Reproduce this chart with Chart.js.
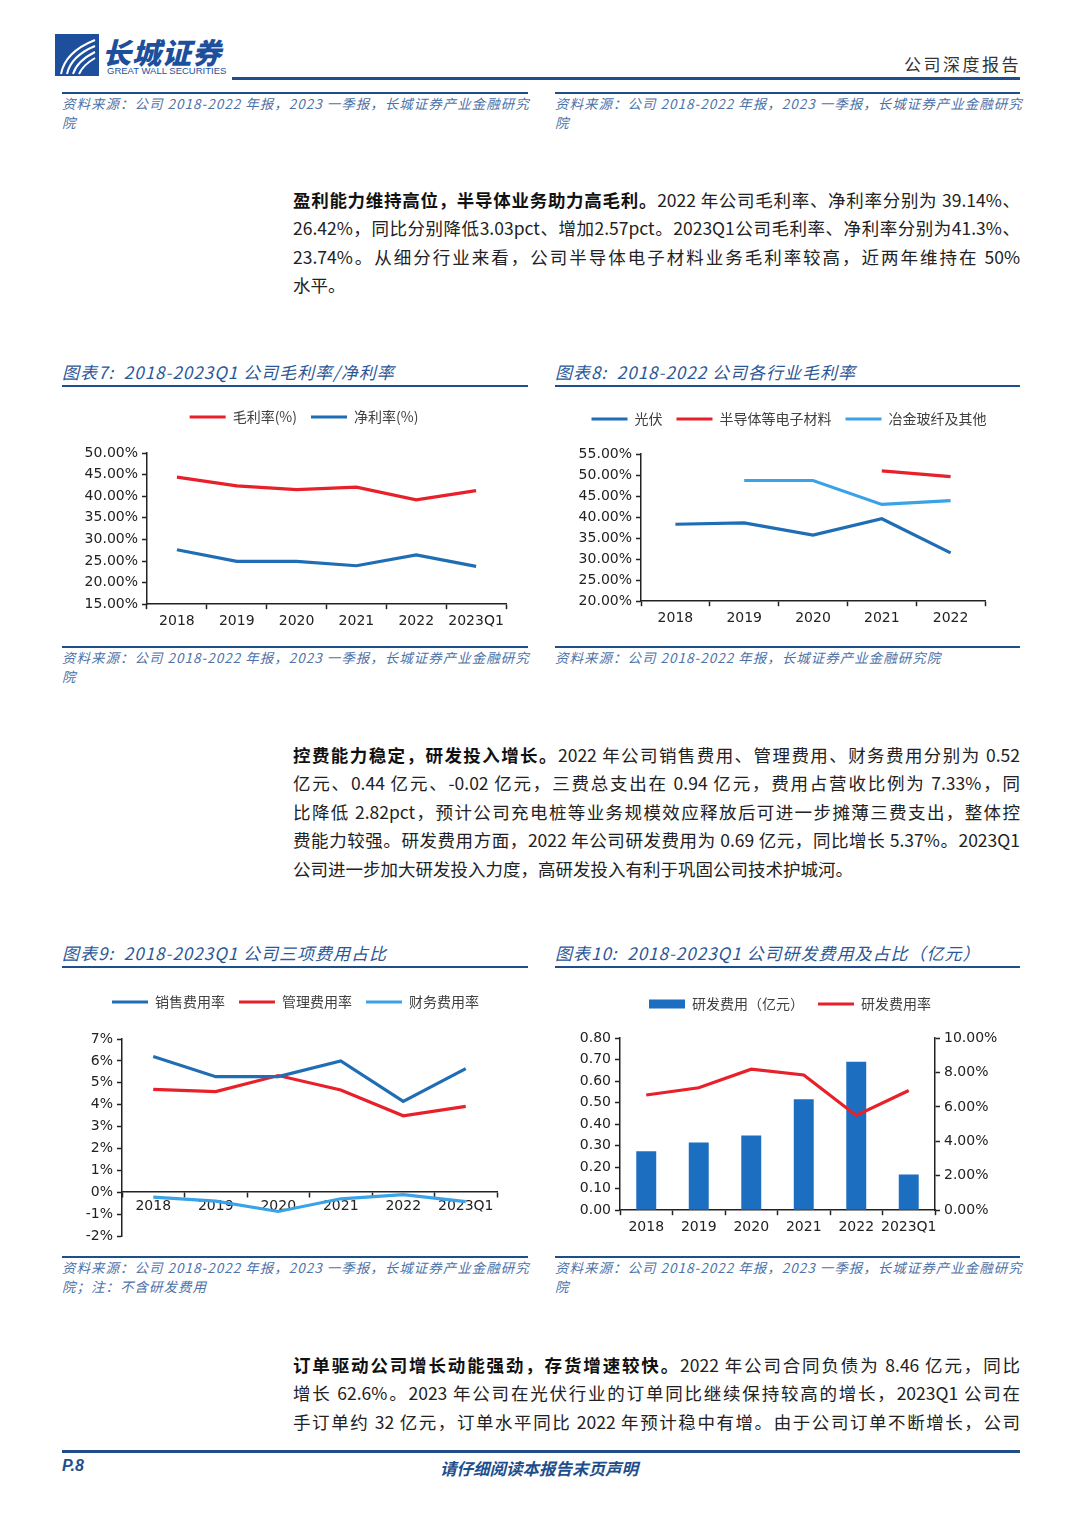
<!DOCTYPE html>
<html lang="zh-CN">
<head>
<meta charset="UTF-8" />
<title>长城证券 公司深度报告 P.8</title>
<script src="https://cdn.jsdelivr.net/npm/chart.js"></script>
<style>
  body {
    margin: 0;
    width: 1080px;
    height: 1527px;
    position: relative;
    overflow: hidden;
    background: #fff;
    font-family: 'Noto Sans CJK SC', sans-serif;
    color: #222;
  }
  .line { position: absolute; background: #1f4e8c; }
  .src {
    position: absolute;
    width: 480px;
    font-style: italic;
    font-size: 13.5px;
    line-height: 19px;
    letter-spacing: 1px;
    color: #4d72a8;
    white-space: nowrap;
  }
  .ttl {
    position: absolute;
    font-style: italic;
    font-size: 17px;
    letter-spacing: 1px;
    color: #2b5797;
    white-space: nowrap;
  }
  .para {
    position: absolute;
    left: 293px;
    width: 727px;
    font-size: 17.5px;
    line-height: 28.4px;
    color: #222;
  }
  .para div { text-align: justify; text-align-last: justify; }
  .para div.last { text-align-last: left; }
  .para b { font-weight: 700; color: #111; }
  .box { position: absolute; }
</style>
</head>
<body>

<!-- header -->
<svg class="box" style="left:55px;top:34px" width="44" height="42" viewBox="0 0 44 42">
  <rect width="44" height="42" fill="#1d4f9c"/>
  <path d="M6 40 Q10 18 40 6" stroke="#fff" stroke-width="2" fill="none"/>
  <path d="M12 40 Q16 22 40 12" stroke="#fff" stroke-width="2" fill="none"/>
  <path d="M18 40 Q22 27 40 18" stroke="#fff" stroke-width="2" fill="none"/>
  <path d="M24 40 Q28 31 40 24" stroke="#fff" stroke-width="2" fill="none"/>
</svg>
<div class="box" style="left:102px;top:30px;font-size:29px;font-weight:900;color:#1d4f9c;letter-spacing:1px;font-style:italic">长城证券</div>
<div class="box" style="left:107px;top:65px;font-size:9.5px;font-family:'Liberation Sans';color:#1d4f9c">GREAT WALL SECURITIES</div>
<div class="box" style="left:904px;top:51px;font-size:17px;color:#333;letter-spacing:2.5px">公司深度报告</div>
<div class="line" style="left:232px;top:77px;width:788px;height:3px"></div>

<!-- previous sources -->
<div class="line" style="left:62px;top:92px;width:466px;height:2px"></div>
<div class="line" style="left:555px;top:92px;width:465px;height:2px"></div>
<div class="src" style="left:62px;top:94px">资料来源：公司 2018-2022 年报，2023 一季报，长城证券产业金融研究<br>院</div>
<div class="src" style="left:555px;top:94px">资料来源：公司 2018-2022 年报，2023 一季报，长城证券产业金融研究<br>院</div>

<!-- paragraph 1 -->
<div class="para" style="top:186px">
  <div><b>盈利能力维持高位，半导体业务助力高毛利。</b>2022 年公司毛利率、净利率分别为 39.14%、</div>
  <div>26.42%，同比分别降低3.03pct、增加2.57pct。2023Q1公司毛利率、净利率分别为41.3%、</div>
  <div>23.74%。从细分行业来看，公司半导体电子材料业务毛利率较高，近两年维持在 50%</div>
  <div class="last">水平。</div>
</div>

<!-- charts 7 / 8 -->
<div class="ttl" style="left:62px;top:359px">图表7:&nbsp; 2018-2023Q1 公司毛利率/净利率</div>
<div class="ttl" style="left:555px;top:359px">图表8:&nbsp; 2018-2022 公司各行业毛利率</div>
<div class="line" style="left:62px;top:385px;width:466px;height:2px"></div>
<div class="line" style="left:555px;top:385px;width:465px;height:2px"></div>
<canvas id="c7" class="box" style="left:62px;top:395px" width="466" height="245"></canvas>
<canvas id="c8" class="box" style="left:555px;top:395px" width="466" height="245"></canvas>
<div class="line" style="left:62px;top:646px;width:466px;height:2px"></div>
<div class="line" style="left:555px;top:646px;width:465px;height:2px"></div>
<div class="src" style="left:62px;top:648px">资料来源：公司 2018-2022 年报，2023 一季报，长城证券产业金融研究<br>院</div>
<div class="src" style="left:555px;top:648px">资料来源：公司 2018-2022 年报，长城证券产业金融研究院</div>

<!-- paragraph 2 -->
<div class="para" style="top:741px">
  <div><b>控费能力稳定，研发投入增长。</b>2022 年公司销售费用、管理费用、财务费用分别为 0.52</div>
  <div>亿元、0.44 亿元、-0.02 亿元，三费总支出在 0.94 亿元，费用占营收比例为 7.33%，同</div>
  <div>比降低 2.82pct，预计公司充电桩等业务规模效应释放后可进一步摊薄三费支出，整体控</div>
  <div>费能力较强。研发费用方面，2022 年公司研发费用为 0.69 亿元，同比增长 5.37%。2023Q1</div>
  <div class="last">公司进一步加大研发投入力度，高研发投入有利于巩固公司技术护城河。</div>
</div>

<!-- charts 9 / 10 -->
<div class="ttl" style="left:62px;top:940px">图表9:&nbsp; 2018-2023Q1 公司三项费用占比</div>
<div class="ttl" style="left:555px;top:940px">图表10:&nbsp; 2018-2023Q1 公司研发费用及占比（亿元）</div>
<div class="line" style="left:62px;top:966px;width:466px;height:2px"></div>
<div class="line" style="left:555px;top:966px;width:465px;height:2px"></div>
<canvas id="c9" class="box" style="left:62px;top:978px" width="466" height="272"></canvas>
<canvas id="c10" class="box" style="left:555px;top:978px" width="466" height="272"></canvas>
<div class="line" style="left:62px;top:1256px;width:466px;height:2px"></div>
<div class="line" style="left:555px;top:1256px;width:465px;height:2px"></div>
<div class="src" style="left:62px;top:1258px">资料来源：公司 2018-2022 年报，2023 一季报，长城证券产业金融研究<br>院；注：不含研发费用</div>
<div class="src" style="left:555px;top:1258px">资料来源：公司 2018-2022 年报，2023 一季报，长城证券产业金融研究<br>院</div>

<!-- paragraph 3 -->
<div class="para" style="top:1351px">
  <div><b>订单驱动公司增长动能强劲，存货增速较快。</b>2022 年公司合同负债为 8.46 亿元，同比</div>
  <div>增长 62.6%。2023 年公司在光伏行业的订单同比继续保持较高的增长，2023Q1 公司在</div>
  <div>手订单约 32 亿元，订单水平同比 2022 年预计稳中有增。由于公司订单不断增长，公司</div>
</div>

<!-- footer -->
<div class="line" style="left:62px;top:1450px;width:958px;height:3px"></div>
<div class="box" style="left:62px;top:1457px;font-size:16px;font-weight:700;font-style:italic;color:#1f4e8c;font-family:'Liberation Sans'">P.8</div>
<div class="box" style="left:440px;top:1456px;font-size:16.5px;font-weight:700;font-style:italic;color:#1f4e8c">请仔细阅读本报告末页声明</div>

<script>
// categories
const years6 = ['2018', '2019', '2020', '2021', '2022', '2023Q1'];
const years5 = ['2018', '2019', '2020', '2021', '2022'];

// 图表7 毛利率 / 净利率 (%)
const grossMargin = [44.4, 42.4, 41.5, 42.1, 39.14, 41.3];
const netMargin = [27.6, 24.9, 24.9, 23.9, 26.42, 23.74];

// 图表8 各行业毛利率 (%)
const pvMargin = [38.3, 38.6, 35.7, 39.6, 31.5];
const semiMargin = [null, null, null, 51.0, 49.6];
const metalMargin = [null, 48.7, 48.7, 43.0, 43.9];

// 图表9 三项费用率 (%)
const sellRate = [6.2, 5.28, 5.28, 6.0, 4.15, 5.65];
const adminRate = [4.7, 4.6, 5.33, 4.67, 3.49, 3.92];
const finRate = [-0.22, -0.41, -0.88, -0.3, -0.11, -0.43];

// 图表10 研发费用 (亿元) 及费用率 (%)
const rdCost = [0.274, 0.314, 0.347, 0.515, 0.69, 0.166];
const rdRate = [6.69, 7.11, 8.19, 7.85, 5.5, 6.95];

const RED = '#e8202a';
const BLUE = '#1f6db4';
const LIGHT = '#3aa3e8';
const FONT = "'DejaVu Sans', 'Noto Sans CJK SC', sans-serif";

Chart.defaults.font.family = FONT;
Chart.defaults.color = '#222';
Chart.defaults.animation = false;
Chart.defaults.plugins.tooltip.enabled = false;

// extra room under the legend and a small sideways nudge, like the Excel charts
const legendGap = {
  id: 'legendGap',
  beforeInit(chart, args, opts) {
    const fit = chart.legend.fit;
    chart.legend.fit = function () {
      fit.call(this);
      this.height += opts.extra || 0;
    };
  },
  afterLayout(chart, args, opts) {
    const lg = chart.legend;
    lg.left += opts.shift || 0;
    lg.right += opts.shift || 0;
  }
};

function lineSet(label, data, color) {
  return {
    type: 'line', label: label, data: data,
    borderColor: color, backgroundColor: color, borderWidth: 3.2,
    pointRadius: 0, pointStyle: 'line', tension: 0, spanGaps: false
  };
}

function legendOpts() {
  return {
    position: 'top',
    labels: {
      usePointStyle: true, pointStyleWidth: 36, boxHeight: 9,
      font: { size: 14, family: "'Noto Sans CJK SC', 'DejaVu Sans'" },
      color: '#404040', padding: 14,
      sort: (a, b) => a.datasetIndex - b.datasetIndex
    }
  };
}

function xAxis(extra) {
  return Object.assign({
    offset: true,
    grid: { offset: true, drawOnChartArea: false, tickLength: 5, tickColor: '#222', tickWidth: 1.5 },
    border: { color: '#222', width: 1.5 },
    ticks: { font: { size: 14 }, padding: 4, maxRotation: 0, autoSkip: false }
  }, extra);
}

function yAxis(min, max, step, fmt, width, extra) {
  return Object.assign({
    min: min, max: max,
    grid: { drawOnChartArea: false, tickLength: 5, tickColor: '#222', tickWidth: 1.5 },
    border: { color: '#222', width: 1.5 },
    ticks: { stepSize: step, font: { size: 14 }, padding: 4, callback: fmt },
    afterFit: function (s) { s.width = width; }
  }, extra);
}

// 图表7
new Chart(document.getElementById('c7'), {
  type: 'line',
  data: {
    labels: years6,
    datasets: [
      lineSet('毛利率(%)', grossMargin, RED),
      lineSet('净利率(%)', netMargin, BLUE)
    ]
  },
  plugins: [legendGap],
  options: {
    responsive: false,
    layout: { padding: { left: 0, right: 22, top: 1, bottom: 6 } },
    plugins: { legend: legendOpts(), legendGap: { extra: 19, shift: 20 } },
    scales: {
      x: xAxis(),
      y: yAxis(15, 50, 5, v => v.toFixed(2) + '%', 85)
    }
  }
});

// 图表8
new Chart(document.getElementById('c8'), {
  type: 'line',
  data: {
    labels: years5,
    datasets: [
      lineSet('光伏', pvMargin, BLUE),
      lineSet('半导体等电子材料', semiMargin, RED),
      lineSet('冶金玻纤及其他', metalMargin, LIGHT)
    ]
  },
  plugins: [legendGap],
  options: {
    responsive: false,
    layout: { padding: { left: 0, right: 36, top: 3, bottom: 9 } },
    plugins: { legend: legendOpts(), legendGap: { extra: 18, shift: 19 } },
    scales: {
      x: xAxis(),
      y: yAxis(20, 55, 5, v => v.toFixed(2) + '%', 86)
    }
  }
});

// 图表9
const x9 = xAxis({ position: { y: 0 } });
x9.ticks.padding = 1;
new Chart(document.getElementById('c9'), {
  type: 'line',
  data: {
    labels: years6,
    datasets: [
      lineSet('销售费用率', sellRate, BLUE),
      lineSet('管理费用率', adminRate, RED),
      lineSet('财务费用率', finRate, LIGHT)
    ]
  },
  plugins: [legendGap],
  options: {
    responsive: false,
    layout: { padding: { left: 0, right: 31, top: 3, bottom: 14 } },
    plugins: { legend: legendOpts(), legendGap: { extra: 20, shift: 16 } },
    scales: {
      x: x9,
      y: yAxis(-2, 7, 1, v => v + '%', 60)
    }
  }
});

// 图表10
new Chart(document.getElementById('c10'), {
  data: {
    labels: years6,
    datasets: [
      {
        type: 'bar', label: '研发费用（亿元）', data: rdCost, yAxisID: 'y',
        backgroundColor: '#1c6fc0', pointStyle: 'rect',
        categoryPercentage: 1, barPercentage: 0.38, order: 2
      },
      Object.assign(lineSet('研发费用率', rdRate, RED), { yAxisID: 'y1', order: 1 })
    ]
  },
  plugins: [legendGap],
  options: {
    responsive: false,
    layout: { padding: { left: 0, right: 0, top: 5, bottom: 10 } },
    plugins: { legend: legendOpts(), legendGap: { extra: 17, shift: 2 } },
    scales: {
      x: xAxis(),
      y: yAxis(0, 0.8, 0.1, v => v.toFixed(2), 65, { position: 'left' }),
      y1: yAxis(0, 10, 2, v => v.toFixed(2) + '%', 86, { position: 'right' })
    }
  }
});
</script>
</body>
</html>
